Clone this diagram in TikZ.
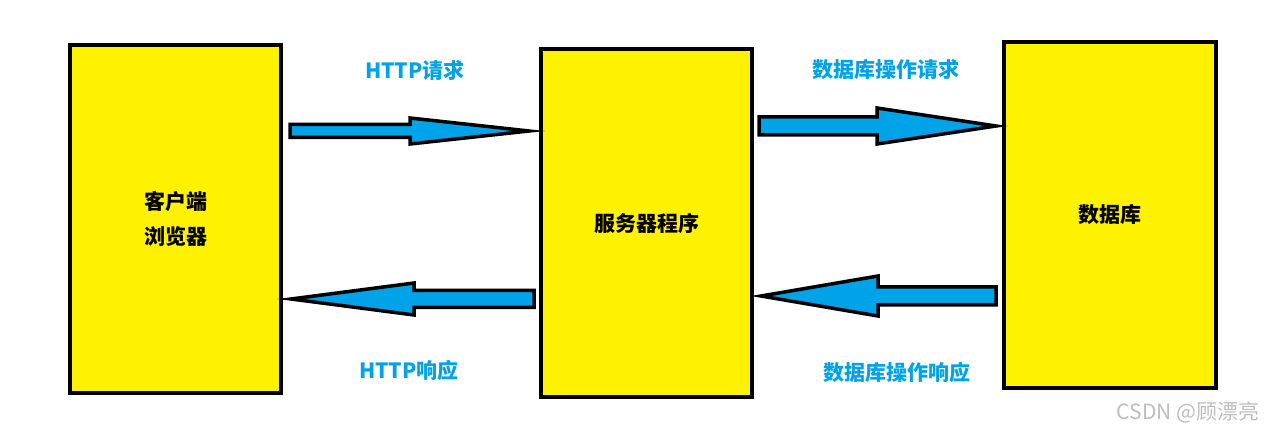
\documentclass[tikz,border=0pt]{standalone}
\usepackage{fontspec}
\newfontfamily\cjk{Noto Sans CJK SC}
\usepackage{tikz}
\usetikzlibrary{positioning,calc}
\definecolor{boxyellow}{HTML}{FFF200}
\definecolor{flowcyan}{HTML}{00A2E8}
\definecolor{markgray}{HTML}{BDBDBD}
\tikzset{
  tier/.style={rectangle, draw=black, line width=4pt, fill=boxyellow, inner sep=0pt,
    align=center, font=\cjk\bfseries\fontsize{21}{35}\selectfont},
  flowarrow/.style={draw=black, line width=3.5pt, fill=flowcyan, line join=miter},
  flowlabel/.style={text=flowcyan, font=\cjk\bfseries\fontsize{21}{24}\selectfont}
}
% block arrow: start, tip, shaft half width, head half width, head length
\newcommand{\flowarrow}[5]{%
  \draw[flowarrow] ($(#1)+(0,-#3)$) -- ($(#2)!#5!(#1)+(0,-#3)$) -- ($(#2)!#5!(#1)+(0,-#4)$)
    -- (#2) -- ($(#2)!#5!(#1)+(0,#4)$) -- ($(#2)!#5!(#1)+(0,#3)$) -- ($(#1)+(0,#3)$) -- cycle;}
\begin{document}
\begin{tikzpicture}[x=1pt, y=-1pt]
\useasboundingbox (0,0) rectangle (1265,435);
\node[tier, minimum width=211pt, minimum height=348pt] (client) at (175.5,219) {客户端\\浏览器};
\node[tier, minimum width=211pt, minimum height=348pt] (server) at (646.5,223) {服务器程序};
\node[tier, minimum width=212pt, minimum height=346pt] (db) at (1110,215) {数据库};
% request / response arrows
\coordinate (reqs) at ($(client.east |- 0,131)+(7,0)$);
\coordinate (reqt) at ($(server.west |- 0,131)+(-10,0)$);
\coordinate (ress) at ($(server.west |- 0,299)+(-5,0)$);
\coordinate (rest) at ($(client.east |- 0,299)+(8,0)$);
\coordinate (dbqs) at ($(server.east |- 0,126)+(5,0)$);
\coordinate (dbqt) at ($(db.west |- 0,126)+(-6,0)$);
\coordinate (dbrs) at ($(db.west |- 0,296)+(-6,0)$);
\coordinate (dbrt) at ($(server.east |- 0,296)+(7,0)$);
\flowarrow{reqs}{reqt}{6.5}{13}{119pt}
\flowarrow{ress}{rest}{8.5}{16}{123pt}
\flowarrow{dbqs}{dbqt}{9}{18}{119pt}
\flowarrow{dbrs}{dbrt}{9}{20}{117pt}
\node[flowlabel] (reql) at (415,70) {HTTP请求};
\node[flowlabel] (resl) at (409,370) {HTTP响应};
\node[flowlabel] (dbql) at (886,70) {数据库操作请求};
\node[flowlabel] (dbrl) at (897,372) {数据库操作响应};
\node[text=markgray, font=\cjk\fontsize{21}{24}\selectfont, anchor=east] (mark) at (1263,412) {CSDN @顾漂亮};
\end{tikzpicture}
\end{document}
